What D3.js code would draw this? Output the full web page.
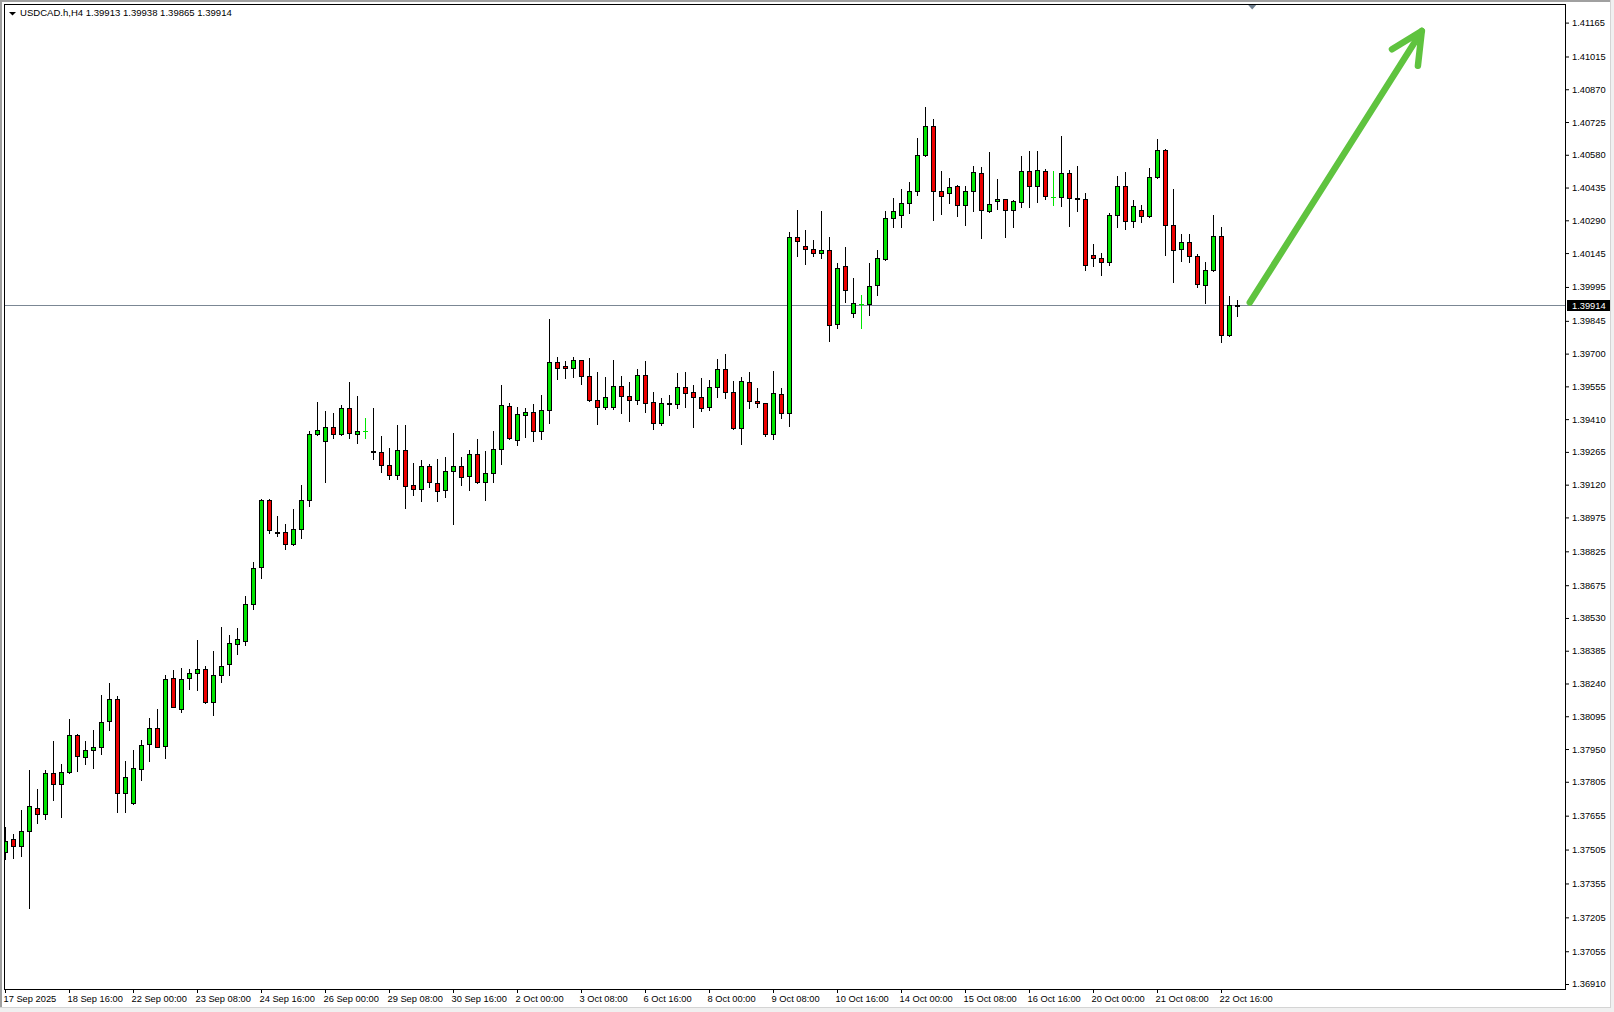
<!DOCTYPE html>
<html><head><meta charset="utf-8">
<script src="https://d3js.org/d3.v7.min.js"></script>
<style>
body{margin:0;background:#fff;}
svg{display:block;}
text{font-family:"Liberation Sans",Arial,sans-serif;}
</style>
</head><body>
<svg id="chart" width="1614" height="1012"></svg>
<script>
// ---------- DATA ----------
const symbolTitle = "USDCAD.h,H4";
const lastQuote = [1.39913, 1.39938, 1.39865, 1.39914]; // O H L C of last bar
const currentPrice = 1.39914;

const open = [1.37493,1.37550,1.37519,1.37586,1.37688,1.37661,1.37842,1.37794,1.37850,1.38011,
1.37913,1.37944,1.37957,1.38073,1.38170,1.37754,1.37710,1.37860,1.37971,1.38042,
1.37962,1.38263,1.38126,1.38263,1.38285,1.38303,1.38159,1.38276,1.38325,1.38416,
1.38429,1.38590,1.38754,1.39051,1.38911,1.38909,1.38856,1.38922,1.39051,1.39343,
1.39312,1.39374,1.39343,1.39458,1.39343,1.39356,1.39269,1.39263,1.39206,1.39161,
1.39272,1.39117,1.39099,1.39201,1.39126,1.39095,1.39179,1.39201,1.39160,1.39254,
1.39130,1.39170,1.39276,1.39467,1.39316,1.39427,1.39440,1.39356,1.39449,1.39662,
1.39644,1.39635,1.39670,1.39600,1.39493,1.39462,1.39462,1.39555,1.39511,1.39493,
1.39604,1.39484,1.39392,1.39480,1.39477,1.39551,1.39529,1.39507,1.39462,1.39551,
1.39631,1.39529,1.39369,1.39573,1.39489,1.39480,1.39343,1.39520,1.39436,1.40215,
1.40175,1.40162,1.40144,1.40157,1.39830,1.40086,1.39878,1.39918,1.39918,1.40002,
1.40117,1.40299,1.40312,1.40365,1.40418,1.40578,1.40706,1.40418,1.40410,1.40440,
1.40356,1.40418,1.40498,1.40330,1.40374,1.40383,1.40334,1.40370,1.40507,1.40440,
1.40507,1.40393,1.40392,1.40498,1.40387,1.40385,1.40135,1.40122,1.40104,1.40312,
1.40440,1.40286,1.40334,1.40308,1.40480,1.40601,1.40268,1.40162,1.40193,1.40131,
1.40002,1.40069,1.40219,1.39781,1.39913];

const high = [1.37606,1.37574,1.37680,1.37857,1.37773,1.37857,1.37985,1.37884,1.38083,1.38016,
1.37985,1.38034,1.38189,1.38242,1.38183,1.37897,1.37946,1.37990,1.38087,1.38127,
1.38279,1.38300,1.38308,1.38304,1.38432,1.38317,1.38384,1.38490,1.38454,1.38484,
1.38627,1.38778,1.39056,1.39056,1.38981,1.38946,1.39012,1.39118,1.39357,1.39486,
1.39446,1.39437,1.39473,1.39574,1.39512,1.39415,1.39458,1.39335,1.39281,1.39384,
1.39384,1.39216,1.39229,1.39210,1.39233,1.39242,1.39348,1.39242,1.39273,1.39322,
1.39269,1.39357,1.39561,1.39480,1.39462,1.39458,1.39477,1.39517,1.39853,1.39685,
1.39667,1.39685,1.39672,1.39679,1.39617,1.39596,1.39672,1.39601,1.39574,1.39632,
1.39667,1.39530,1.39504,1.39517,1.39614,1.39619,1.39560,1.39592,1.39582,1.39676,
1.39698,1.39579,1.39595,1.39619,1.39548,1.39482,1.39623,1.39548,1.40238,1.40336,
1.40246,1.40201,1.40332,1.40215,1.40100,1.40171,1.40035,1.39958,1.40101,1.40159,
1.40331,1.40389,1.40428,1.40458,1.40654,1.40791,1.40738,1.40508,1.40477,1.40446,
1.40440,1.40530,1.40526,1.40591,1.40473,1.40385,1.40379,1.40573,1.40596,1.40596,
1.40516,1.40507,1.40663,1.40511,1.40530,1.40410,1.40184,1.40144,1.40321,1.40486,
1.40502,1.40379,1.40356,1.40521,1.40650,1.40606,1.40428,1.40228,1.40228,1.40140,
1.40104,1.40312,1.40259,1.39954,1.39938];

const low = [1.37463,1.37469,1.37478,1.37248,1.37624,1.37641,1.37724,1.37650,1.37845,1.37854,
1.37884,1.37867,1.37929,1.38035,1.37672,1.37672,1.37705,1.37813,1.37898,1.37957,
1.37911,1.38134,1.38116,1.38216,1.38211,1.38155,1.38100,1.38246,1.38277,1.38370,
1.38410,1.38571,1.38707,1.38907,1.38894,1.38837,1.38852,1.38885,1.39027,1.39340,
1.39133,1.39328,1.39338,1.39328,1.39306,1.39326,1.39232,1.39177,1.39144,1.39147,
1.39018,1.39075,1.39049,1.39111,1.39049,1.39067,1.38947,1.39120,1.39098,1.39128,
1.39053,1.39133,1.39213,1.39323,1.39297,1.39332,1.39312,1.39323,1.39392,1.39586,
1.39593,1.39598,1.39564,1.39491,1.39387,1.39453,1.39457,1.39438,1.39403,1.39476,
1.39443,1.39365,1.39385,1.39427,1.39458,1.39462,1.39374,1.39445,1.39449,1.39507,
1.39502,1.39365,1.39299,1.39458,1.39462,1.39334,1.39321,1.39414,1.39378,1.40131,
1.40095,1.40131,1.40122,1.39756,1.39812,1.39927,1.39863,1.39815,1.39872,1.39961,
1.40113,1.40259,1.40259,1.40321,1.40401,1.40573,1.40290,1.40317,1.40365,1.40308,
1.40268,1.40330,1.40210,1.40328,1.40339,1.40215,1.40259,1.40347,1.40347,1.40370,
1.40383,1.40356,1.40352,1.40263,1.40330,1.40069,1.40086,1.40047,1.40091,1.40259,
1.40250,1.40259,1.40281,1.40305,1.40478,1.40135,1.40018,1.40109,1.40104,1.39993,
1.39923,1.40066,1.39750,1.39777,1.39865];

const close = [1.37544,1.37519,1.37586,1.37696,1.37664,1.37842,1.37794,1.37847,1.38011,1.37918,
1.37944,1.37957,1.38068,1.38170,1.37754,1.37825,1.37865,1.37966,1.38042,1.37960,
1.38258,1.38138,1.38258,1.38285,1.38303,1.38159,1.38276,1.38316,1.38418,1.38435,
1.38590,1.38750,1.39051,1.38920,1.38910,1.38856,1.38922,1.39051,1.39343,1.39361,
1.39374,1.39343,1.39458,1.39347,1.39356,1.39356,1.39265,1.39206,1.39161,1.39272,
1.39115,1.39102,1.39201,1.39130,1.39093,1.39179,1.39201,1.39155,1.39254,1.39130,
1.39170,1.39276,1.39471,1.39325,1.39431,1.39440,1.39356,1.39449,1.39662,1.39635,
1.39635,1.39670,1.39600,1.39493,1.39462,1.39507,1.39555,1.39511,1.39493,1.39604,
1.39480,1.39392,1.39480,1.39477,1.39551,1.39524,1.39507,1.39458,1.39551,1.39631,
1.39529,1.39369,1.39577,1.39489,1.39480,1.39343,1.39524,1.39436,1.40215,1.40197,
1.40162,1.40144,1.40157,1.39825,1.40078,1.39980,1.39923,1.39918,1.39998,1.40122,
1.40299,1.40330,1.40365,1.40418,1.40578,1.40706,1.40418,1.40396,1.40436,1.40356,
1.40418,1.40502,1.40334,1.40361,1.40383,1.40334,1.40374,1.40507,1.40440,1.40511,
1.40396,1.40393,1.40498,1.40387,1.40383,1.40091,1.40122,1.40104,1.40312,1.40440,
1.40286,1.40352,1.40308,1.40480,1.40601,1.40268,1.40157,1.40193,1.40131,1.40007,
1.40069,1.40219,1.39781,1.39913,1.39914];

const yTickValues = [1.41165,1.41015,1.40870,1.40725,1.40580,1.40435,1.40290,1.40145,1.39995,1.39845,
1.39700,1.39555,1.39410,1.39265,1.39120,1.38975,1.38825,1.38675,1.38530,1.38385,
1.38240,1.38095,1.37950,1.37805,1.37655,1.37505,1.37355,1.37205,1.37055,1.36910];

const xTickIndex = [0,8,16,24,32,40,48,56,64,72,80,88,96,104,112,120,128,136,144,152];
const xTickLabels = ["17 Sep 2025","18 Sep 16:00","22 Sep 00:00","23 Sep 08:00","24 Sep 16:00",
"26 Sep 00:00","29 Sep 08:00","30 Sep 16:00","2 Oct 00:00","3 Oct 08:00","6 Oct 16:00",
"8 Oct 00:00","9 Oct 08:00","10 Oct 16:00","14 Oct 00:00","15 Oct 08:00","16 Oct 16:00",
"20 Oct 00:00","21 Oct 08:00","22 Oct 16:00"];

// trend arrow drawn on the chart (bar index, price)
const arrowStart = [155.6, 1.39926];
const arrowEnd = [177.1, 1.41128];
const shiftMarkerBar = 155.9;

// ---------- DRAW ----------
const W = 1614, H = 1012;
const plot = {left: 4, top: 4, right: 1565, bottom: 989};
const svg = d3.select("#chart");
const fs = "9.3px";
const upColor = "#00e400", downColor = "#ee0000", dojiColor = "#00e400";

// window chrome
svg.append("rect").attr("x",0).attr("y",0).attr("width",W).attr("height",H).attr("fill","#ffffff");
svg.append("rect").attr("x",0).attr("y",0).attr("width",W).attr("height",2).attr("fill","#a0a0a0");
svg.append("rect").attr("x",0).attr("y",0).attr("width",2).attr("height",H).attr("fill","#a0a0a0");
svg.append("rect").attr("x",1610).attr("y",0).attr("width",4).attr("height",H).attr("fill","#f0f0f0");
svg.append("rect").attr("x",0).attr("y",1007).attr("width",W).attr("height",5).attr("fill","#f0f0f0");
svg.append("rect").attr("x",1610).attr("y",0).attr("width",1).attr("height",1007).attr("fill","#d4d4d4");
svg.append("rect").attr("x",0).attr("y",1007).attr("width",1611).attr("height",1).attr("fill","#d4d4d4");

const x = d3.scaleLinear().domain([0, 1]).range([5, 13]);
const y = d3.scaleLinear().domain([1.36910, 1.41165]).range([984.0, 22.6]);

svg.append("defs").append("clipPath").attr("id","clip").append("rect")
  .attr("x", plot.left+1).attr("y", plot.top+1)
  .attr("width", plot.right-plot.left-1).attr("height", plot.bottom-plot.top-1);

// header
svg.append("path").attr("d","M9,12 L16,12 L12.5,15.5 Z").attr("fill","#000");
svg.append("text").attr("x",20).attr("y",16).attr("font-size","9.55px").attr("fill","#000")
  .text(symbolTitle + "  " + lastQuote.map(d3.format(".5f")).join(" "));

// current price line (below candles)
const gClip = svg.append("g").attr("clip-path","url(#clip)");
const yp = Math.round(y(currentPrice)) + 0.5;
gClip.append("line").attr("x1",plot.left).attr("x2",plot.right).attr("y1",yp).attr("y2",yp)
  .attr("stroke","#7b8794").attr("stroke-width",1);

// candles
const bars = d3.range(open.length).map(i => ({i, o: open[i], h: high[i], l: low[i], c: close[i]}));
const cg = gClip.append("g");
bars.forEach(b => {
  const cx = x(b.i);
  const yh = Math.round(y(b.h)), yl = Math.round(y(b.l));
  if (b.o === b.c) {
    cg.append("line").attr("x1",cx+0.5).attr("x2",cx+0.5).attr("y1",yh).attr("y2",yl+1)
      .attr("stroke",dojiColor).attr("stroke-width",1);
    const yo = Math.round(y(b.o)) + 0.5;
    cg.append("line").attr("x1",cx-2).attr("x2",cx+3).attr("y1",yo).attr("y2",yo)
      .attr("stroke",dojiColor).attr("stroke-width",1);
    return;
  }
  cg.append("line").attr("x1",cx+0.5).attr("x2",cx+0.5).attr("y1",yh).attr("y2",yl+1)
    .attr("stroke","#000").attr("stroke-width",1);
  const top = Math.round(y(Math.max(b.o,b.c))), bot = Math.round(y(Math.min(b.o,b.c)));
  cg.append("rect").attr("x",cx-1.5).attr("y",top+0.5).attr("width",4)
    .attr("height",Math.max(1, bot-top))
    .attr("fill", b.c > b.o ? upColor : downColor)
    .attr("stroke","#000").attr("stroke-width",1);
});

// arrow
const ax1 = x(arrowStart[0]), ay1 = y(arrowStart[1]);
const ax2 = x(arrowEnd[0]), ay2 = y(arrowEnd[1]);
const ang = Math.atan2(ay1-ay2, ax1-ax2);
const wl = 35, wa = 26*Math.PI/180;
const arrowColor = "#5fc33f";
const ag = gClip.append("g").attr("stroke",arrowColor).attr("stroke-width",6.5)
  .attr("stroke-linecap","round").attr("stroke-linejoin","round").attr("fill","none");
ag.append("line").attr("x1",ax1).attr("y1",ay1).attr("x2",ax2).attr("y2",ay2);
ag.append("path").attr("d",
  "M"+(ax2+wl*Math.cos(ang+wa))+","+(ay2+wl*Math.sin(ang+wa))+
  " L"+ax2+","+ay2+
  " L"+(ax2+wl*Math.cos(ang-wa))+","+(ay2+wl*Math.sin(ang-wa)));

// shift marker
const sx = x(shiftMarkerBar);
svg.append("path").attr("d",`M${sx-4},5 L${sx+4},5 L${sx},9.5 Z`).attr("fill","#708090");

// frame
svg.append("rect").attr("x",plot.left+0.5).attr("y",plot.top+0.5)
  .attr("width",plot.right-plot.left).attr("height",plot.bottom-plot.top)
  .attr("fill","none").attr("stroke","#000").attr("stroke-width",1);

// y axis
const yAxis = d3.axisRight(y).tickValues(yTickValues).tickSize(3).tickPadding(3)
  .tickFormat(d3.format(".5f"));
const gy = svg.append("g").attr("transform",`translate(${plot.right+1},0)`).call(yAxis);
gy.select(".domain").remove();
gy.selectAll("text").attr("font-size",fs).attr("font-family","Liberation Sans, Arial, sans-serif").attr("fill","#000");
gy.selectAll("line").attr("stroke","#000");

// current price label
svg.append("rect").attr("x",1567).attr("y",Math.round(y(currentPrice))-5).attr("width",43).attr("height",11).attr("fill","#000");
svg.append("text").attr("x",1572).attr("y",y(currentPrice)).attr("dy","0.35em")
  .attr("font-size",fs).attr("fill","#fff").text(d3.format(".5f")(currentPrice));

// x axis
const xAxis = d3.axisBottom(x).tickValues(xTickIndex).tickSize(4).tickPadding(2.5)
  .tickFormat((d,i) => xTickLabels[i]);
const gx = svg.append("g").attr("transform",`translate(0,${plot.bottom})`).call(xAxis);
gx.select(".domain").remove();
gx.selectAll("text").attr("font-size",fs).attr("font-family","Liberation Sans, Arial, sans-serif")
  .attr("fill","#000").attr("text-anchor","start").attr("x",-2);
gx.selectAll("line").attr("stroke","#000");
</script>
</body></html>
